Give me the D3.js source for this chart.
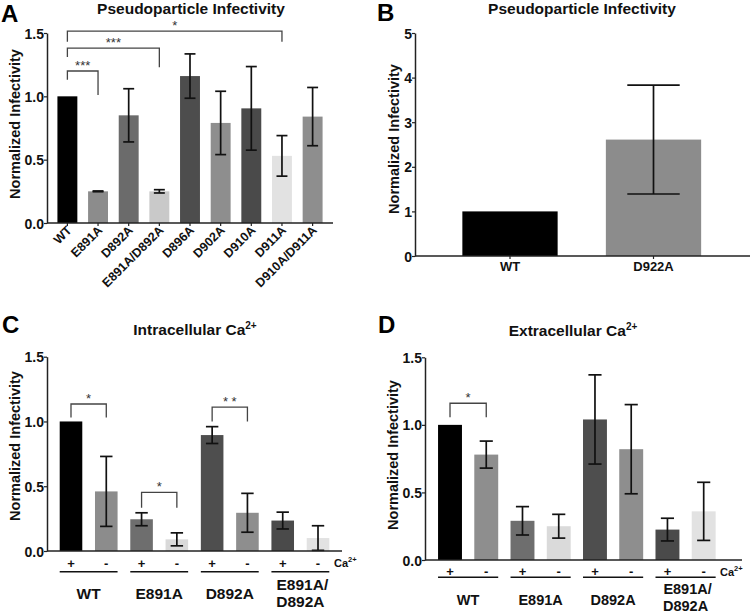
<!DOCTYPE html>
<html>
<head>
<meta charset="utf-8">
<script src="https://cdn.jsdelivr.net/npm/d3@7"></script>
<style>
  html, body { margin: 0; padding: 0; background: #fff; }
  svg text { font-family: "Liberation Sans", Arial, Helvetica, sans-serif; }
</style>
</head>
<body>
<svg id="chart" width="750" height="613"></svg>
<script>
// ---------------- DATA ----------------
const catsA = ["WT", "E891A", "D892A", "E891A/D892A", "D896A", "D902A", "D910A", "D911A", "D910A/D911A"];
const meanA = [1.0, 0.25, 0.85, 0.25, 1.16, 0.79, 0.905, 0.53, 0.84];
const errA  = [0, 0.003, 0.21, 0.013, 0.175, 0.25, 0.33, 0.16, 0.23];
const colorsA = ["#000000", "#8c8c8c", "#6b6b6b", "#c9c9c9", "#4d4d4d", "#8e8e8e", "#4a4a4a", "#e2e2e2", "#8e8e8e"];
const bracketsA = [
  { from: 0, to: 1, y: 1.20, legL: 1.13, legR: 1.01, label: "***" },
  { from: 0, to: 3, y: 1.38, legL: 1.31, legR: 1.23, label: "***" },
  { from: 0, to: 7, y: 1.515, legL: 1.43, legR: 1.43, label: "*" }
];
const ticksA = [0, 0.5, 1.0, 1.5];

const catsB = ["WT", "D922A"];
const meanB = [1.0, 2.61];
const errB  = [0, 1.22];
const colorsB = ["#000000", "#8c8c8c"];
const ticksB = [0, 1, 2, 3, 4, 5];

const groupsCD = ["WT", "E891A", "D892A", "E891A/\nD892A"];
const caCD = ["+", "-"];
const meanC = [1.0, 0.46, 0.245, 0.09, 0.895, 0.295, 0.235, 0.10];
const errC  = [0, 0.27, 0.05, 0.05, 0.065, 0.15, 0.065, 0.095];
const colorsC = ["#000000", "#8c8c8c", "#6e6e6e", "#d9d9d9", "#4e4e4e", "#8e8e8e", "#4a4a4a", "#e2e2e2"];
const bracketsC = [
  { from: 0, to: 1, y: 1.135, legL: 1.03, legR: 1.03, label: "*" },
  { from: 2, to: 3, y: 0.453, legL: 0.334, legR: 0.334, label: "*" },
  { from: 4, to: 5, y: 1.11, legL: 1.0, legR: 1.0, label: "* *" }
];
const meanD = [1.0, 0.78, 0.29, 0.25, 1.04, 0.82, 0.225, 0.36];
const errD  = [0, 0.10, 0.105, 0.088, 0.33, 0.33, 0.084, 0.215];
const colorsD = ["#000000", "#8e8e8e", "#6e6e6e", "#dadada", "#4e4e4e", "#8e8e8e", "#4a4a4a", "#e2e2e2"];
const bracketsD = [
  { from: 0, to: 1, y: 1.16, legL: 1.056, legR: 1.056, label: "*" }
];
const ticksCD = [0, 0.5, 1.0, 1.5];

// ---------------- DRAW ----------------
const svg = d3.select("#chart");

function panel(cfg) {
  const g = svg.append("g");
  const y = d3.scaleLinear().domain(cfg.domain).range([cfg.yBottom, cfg.yTop]);
  const x = d3.scaleBand().domain(d3.range(cfg.means.length))
    .range(cfg.xRange).paddingInner(cfg.pi).paddingOuter(cfg.po);

  // bars
  g.selectAll("rect.bar").data(cfg.means).join("rect")
    .attr("x", (d, i) => x(i)).attr("width", x.bandwidth())
    .attr("y", d => y(d)).attr("height", d => y(0) - y(d))
    .attr("fill", (d, i) => cfg.colors[i]);

  // error bars
  const capW = x.bandwidth() * 0.55;
  cfg.means.forEach((m, i) => {
    const e = cfg.errs[i];
    if (e <= 0) return;
    const cx = x(i) + x.bandwidth() / 2;
    const eg = g.append("g").attr("stroke", "#111").attr("stroke-width", 1.7);
    eg.append("line").attr("x1", cx).attr("x2", cx).attr("y1", y(m + e)).attr("y2", y(m - e));
    eg.append("line").attr("x1", cx - capW / 2).attr("x2", cx + capW / 2).attr("y1", y(m + e)).attr("y2", y(m + e));
    eg.append("line").attr("x1", cx - capW / 2).attr("x2", cx + capW / 2).attr("y1", y(m - e)).attr("y2", y(m - e));
  });

  // y axis
  const ax = g.append("g").attr("transform", `translate(${cfg.xRange[0]},0)`)
    .call(d3.axisLeft(y).tickValues(cfg.ticks).tickFormat(cfg.fmt).tickSize(3).tickSizeOuter(0));
  ax.select(".domain").attr("stroke", "#222").attr("stroke-width", 1.5);
  ax.selectAll(".tick line").attr("stroke", "#222").attr("stroke-width", 1.2);
  ax.selectAll(".tick text").attr("font-size", 14).attr("font-weight", "bold")
    .attr("fill", "#111").attr("x", -3).attr("dy", "0.36em");

  // x axis line
  g.append("line").attr("x1", cfg.xRange[0]).attr("x2", cfg.xEnd)
    .attr("y1", y(0)).attr("y2", y(0)).attr("stroke", "#222").attr("stroke-width", 1.5);
  if (cfg.xTicks) {
    cfg.means.forEach((m, i) => {
      const cx = x(i) + x.bandwidth() / 2;
      g.append("line").attr("x1", cx).attr("x2", cx).attr("y1", y(0)).attr("y2", y(0) + 3)
        .attr("stroke", "#222").attr("stroke-width", 1.2);
    });
  }

  // y label
  g.append("text").attr("transform", `translate(${cfg.yLabelX},${cfg.yLabelY}) rotate(-90)`)
    .attr("text-anchor", "middle").attr("font-size", 14.5).attr("font-weight", "bold").attr("fill", "#111")
    .text("Normalized Infectivity");

  // title
  const t = g.append("text").attr("x", cfg.titleX).attr("y", cfg.titleY)
    .attr("text-anchor", "middle").attr("font-size", 15.5).attr("font-weight", "bold").attr("fill", "#111");
  t.append("tspan").text(cfg.title);
  if (cfg.titleSup) {
    t.append("tspan").attr("font-size", 10).attr("dy", -6).text(cfg.titleSup);
  }

  // panel letter
  g.append("text").attr("x", cfg.letterX).attr("y", cfg.letterY)
    .attr("font-size", 24).attr("font-weight", "bold").attr("fill", "#000").text(cfg.letter);

  // brackets
  (cfg.brackets || []).forEach(b => {
    const x1 = x(b.from) + x.bandwidth() / 2;
    const x2 = x(b.to) + x.bandwidth() / 2;
    g.append("path")
      .attr("d", `M${x1},${y(b.legL)}V${y(b.y)}H${x2}V${y(b.legR)}`)
      .attr("fill", "none").attr("stroke", "#444").attr("stroke-width", 1.3);
    g.append("text").attr("x", (x1 + x2) / 2).attr("y", y(b.y) - 1)
      .attr("text-anchor", "middle").attr("font-size", 13).attr("fill", "#333").text(b.label);
  });

  return { x, y, g };
}

// Panel A
const pA = panel({
  means: meanA, errs: errA, colors: colorsA, domain: [0, 1.5], ticks: ticksA, fmt: d3.format(".1f"),
  yBottom: 223, yTop: 33, xRange: [47, 333], xEnd: 333, pi: 0.35, po: 0.34, xTicks: true,
  yLabelX: 20, yLabelY: 124, title: "Pseudoparticle Infectivity", titleX: 191, titleY: 14,
  letter: "A", letterX: 1, letterY: 22, brackets: bracketsA
});
catsA.forEach((c, i) => {
  const cx = pA.x(i) + pA.x.bandwidth() / 2;
  pA.g.append("text").attr("transform", `translate(${cx + 5},${231}) rotate(-45)`)
    .attr("text-anchor", "end").attr("font-size", 12.5).attr("font-weight", "bold").attr("fill", "#111")
    .text(c);
});

// Panel B
const pB = panel({
  means: meanB, errs: errB, colors: colorsB, domain: [0, 5], ticks: ticksB, fmt: d3.format("d"),
  yBottom: 256, yTop: 33, xRange: [415, 748.5], xEnd: 750, pi: 0.336, po: 0.33, xTicks: true,
  yLabelX: 399, yLabelY: 139, title: "Pseudoparticle Infectivity", titleX: 582, titleY: 14,
  letter: "B", letterX: 377, letterY: 21, brackets: []
});
catsB.forEach((c, i) => {
  const cx = pB.x(i) + pB.x.bandwidth() / 2;
  pB.g.append("text").attr("x", cx).attr("y", 271)
    .attr("text-anchor", "middle").attr("font-size", 13).attr("font-weight", "bold").attr("fill", "#111")
    .text(c);
});

// Panels C and D: sub-axis labels
function caLabels(p, signY, lineY, groupY, caX, line1Y, lineGap, groupSize) {
  const bw = p.x.bandwidth();
  d3.range(8).forEach(i => {
    const cx = p.x(i) + bw / 2;
    p.g.append("text").attr("x", cx).attr("y", signY + 4.5)
      .attr("text-anchor", "middle").attr("font-size", 13).attr("font-weight", "bold").attr("fill", "#111")
      .text(caCD[i % 2]);
  });
  groupsCD.forEach((gname, k) => {
    const xa = p.x(2 * k), xb = p.x(2 * k + 1) + bw;
    p.g.append("line").attr("x1", xa).attr("x2", xb).attr("y1", lineY).attr("y2", lineY)
      .attr("stroke", "#111").attr("stroke-width", 1.5);
    const lines = gname.split("\n");
    if (lines.length === 1) {
      p.g.append("text").attr("text-anchor", "middle").attr("font-size", groupSize)
        .attr("font-weight", "bold").attr("fill", "#111")
        .attr("x", (xa + xb) / 2).attr("y", groupY).text(lines[0]);
    } else {
      lines.forEach((ln, j) => {
        p.g.append("text").attr("text-anchor", "middle").attr("font-size", groupSize)
          .attr("font-weight", "bold").attr("fill", "#111")
          .attr("x", (xa + xb) / 2 + (j === 0 ? 2 : 0))
          .attr("y", line1Y + j * lineGap).text(ln);
      });
    }
  });
  const ct = p.g.append("text").attr("x", caX).attr("y", signY + 4)
    .attr("font-size", 11).attr("font-weight", "bold").attr("fill", "#111");
  ct.append("tspan").text("Ca");
  ct.append("tspan").attr("font-size", 7.5).attr("dy", -5).text("2+");
}

const pC = panel({
  means: meanC, errs: errC, colors: colorsC, domain: [0, 1.5], ticks: ticksCD, fmt: d3.format(".1f"),
  yBottom: 551, yTop: 356.7, xRange: [47, 342], xEnd: 342, pi: 0.36, po: 0.36, xTicks: false,
  yLabelX: 20, yLabelY: 446, title: "Intracellular Ca", titleSup: "2+", titleX: 195, titleY: 335,
  letter: "C", letterX: 2, letterY: 333, brackets: bracketsC
});
caLabels(pC, 563.3, 571.7, 598.5, 334, 589.5, 17, 15.5);

const pD = panel({
  means: meanD, errs: errD, colors: colorsD, domain: [0, 1.5], ticks: ticksCD, fmt: d3.format(".1f"),
  yBottom: 560, yTop: 357.3, xRange: [425, 728.7], xEnd: 742, pi: 0.34, po: 0.36, xTicks: false,
  yLabelX: 398, yLabelY: 455, title: "Extracellular Ca", titleSup: "2+", titleX: 573, titleY: 336,
  letter: "D", letterX: 378, letterY: 333, brackets: bracketsD
});
caLabels(pD, 571.7, 577.3, 605, 720, 594, 16.5, 14.5);
</script>
</body>
</html>
